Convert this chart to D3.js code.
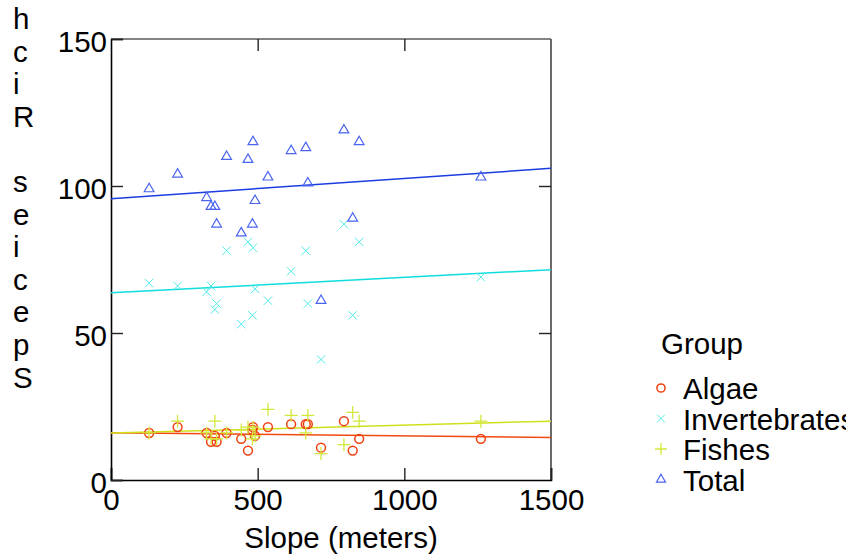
<!DOCTYPE html>
<html><head><meta charset="utf-8">
<script src="https://cdn.jsdelivr.net/npm/d3@7"></script>
<style>html,body{margin:0;padding:0;background:#fff;overflow:hidden}svg{display:block}</style>
</head><body><svg id="chart" width="846" height="556"></svg>
<script>
// ---- data ----
const slope         = [130, 227, 326, 341, 354, 360, 394, 444, 467, 482, 484, 491, 535, 614, 664, 671, 716, 794, 824, 846, 1261];
const algae         = [16, 18, 16, 13, 15, 13, 16, 14, 10, 17, 18, 15, 18, 19, 19, 19, 11, 20, 10, 14, 14];
const invertebrates = [67, 66, 64, 66, 58, 60, 78, 53, 81, 56, 79, 65, 61, 71, 78, 60, 41, 87, 56, 81, 69];
const fishes        = [16, 20, 16, 14, 20, 14, 16, 17, 18, 14, 18, 15, 24, 22, 16, 22, 9, 12, 23, 20, 20];
const total         = [99, 104, 96, 93, 93, 87, 110, 84, 109, 87, 115, 95, 103, 112, 113, 101, 61, 119, 89, 115, 103];
const groupNames    = ["Algae", "Invertebrates", "Fishes", "Total"];
const xTicks        = [0, 500, 1000, 1500];
const yTicks        = [0, 50, 100, 150];

const series = [
  {name: groupNames[0], values: algae,         sym: d3.symbolCircle,    size: 62, pt: "#f04010", ln: "#f04a10", sw: 1.5},
  {name: groupNames[1], values: invertebrates, sym: d3.symbolTimes,     size: 48, pt: "#50eaea", ln: "#10dede", sw: 1.0},
  {name: groupNames[2], values: fishes,        sym: d3.symbolPlus,      size: 56, pt: "#d4e83a", ln: "#cfe01a", sw: 1.3},
  {name: groupNames[3], values: total,         sym: d3.symbolTriangle2, size: 68, pt: "#4a64f0", ln: "#1a3ce0", sw: 1.2}
];

const svg = d3.select("#chart");
const FONT = "'Liberation Sans', Arial, sans-serif";
const FS = 29.5;
const L = 111, R = 551, T = 39, B = 480;
const x = d3.scaleLinear().domain([0, 1500]).range([L, R]);
const y = d3.scaleLinear().domain([0, 150]).range([B, T]);

// regression fits (least squares)
function fit(xs, ys) {
  const n = xs.length, mx = d3.mean(xs), my = d3.mean(ys);
  let sxy = 0, sxx = 0;
  for (let i = 0; i < n; i++) { sxy += (xs[i]-mx)*(ys[i]-my); sxx += (xs[i]-mx)**2; }
  const b = sxy / sxx; return {a: my - b*mx, b};
}

// frame: top/right gray, left/bottom black
svg.append("line").attr("x1", L).attr("x2", R).attr("y1", T).attr("y2", T).attr("stroke", "#5a5a5a").attr("stroke-width", 1.6);
svg.append("line").attr("x1", R).attr("x2", R).attr("y1", T).attr("y2", B).attr("stroke", "#5a5a5a").attr("stroke-width", 1.8);

// axes with inward ticks
const gB = svg.append("g").attr("transform", `translate(0,${B})`)
  .call(d3.axisBottom(x).tickValues(xTicks).tickSize(-12).tickPadding(9).tickFormat(d3.format("d")));
const gL = svg.append("g").attr("transform", `translate(${L},0)`)
  .call(d3.axisLeft(y).tickValues(yTicks).tickSize(-12).tickPadding(4).tickFormat(d3.format("d")));
const gT = svg.append("g").attr("transform", `translate(0,${T})`)
  .call(d3.axisTop(x).tickValues(xTicks.slice(1, 3)).tickSize(-12).tickFormat(""));
const gR = svg.append("g").attr("transform", `translate(${R},0)`)
  .call(d3.axisRight(y).tickValues(yTicks.slice(1, 3)).tickSize(-12).tickFormat(""));
[gB, gL, gT, gR].forEach(g => {
  g.select(".domain").attr("stroke", "#000").attr("stroke-width", 1.6);
  g.selectAll(".tick line").attr("stroke", "#222").attr("stroke-width", 1.4);
  g.selectAll("text").attr("font-family", FONT).attr("font-size", FS).attr("fill", "#000");
});
gT.select(".domain").remove(); gR.select(".domain").remove();
gB.selectAll(".tick text").attr("dy", "0.71em");
gL.selectAll(".tick text").attr("dy", "0.42em");

// regression lines
const gLines = svg.append("g");
series.forEach(s => {
  const f = fit(slope, s.values);
  gLines.append("line")
    .attr("x1", x(0)).attr("y1", y(f.a))
    .attr("x2", x(1500)).attr("y2", y(f.a + f.b*1500))
    .attr("stroke", s.ln).attr("stroke-width", 1.5);
});

// points
series.forEach(s => {
  svg.append("g").selectAll("path").data(s.values).join("path")
    .attr("transform", (d, i) => `translate(${x(slope[i])},${y(d)})`)
    .attr("d", d3.symbol().type(s.sym).size(s.size))
    .attr("fill", "none").attr("stroke", s.pt).attr("stroke-width", s.sw);
});

// x label
svg.append("text").attr("x", 341).attr("y", 548).attr("text-anchor", "middle")
  .attr("font-family", FONT).attr("font-size", FS).text("Slope (meters)");

// y label: stacked letters, bottom to top
const ylab = "Species Rich";
const chars = ylab.split("").reverse();
svg.append("g").selectAll("text").data(chars).join("text")
  .attr("x", 13).attr("y", (d, i) => 29 + i * 32.6)
  .attr("font-family", FONT).attr("font-size", FS).text(d => d);

// legend
const lg = svg.append("g");
lg.append("text").attr("x", 661).attr("y", 354).attr("font-family", FONT).attr("font-size", FS).text("Group");
series.forEach((s, i) => {
  const cy = 388 + i * 30.5;
  lg.append("path").attr("transform", `translate(661,${cy})`)
    .attr("d", d3.symbol().type(s.sym).size(s.size * 0.85))
    .attr("fill", "none").attr("stroke", s.pt).attr("stroke-width", s.sw);
  lg.append("text").attr("x", 683).attr("y", cy + 11).attr("font-family", FONT).attr("font-size", FS).text(s.name);
});
</script></body></html>
